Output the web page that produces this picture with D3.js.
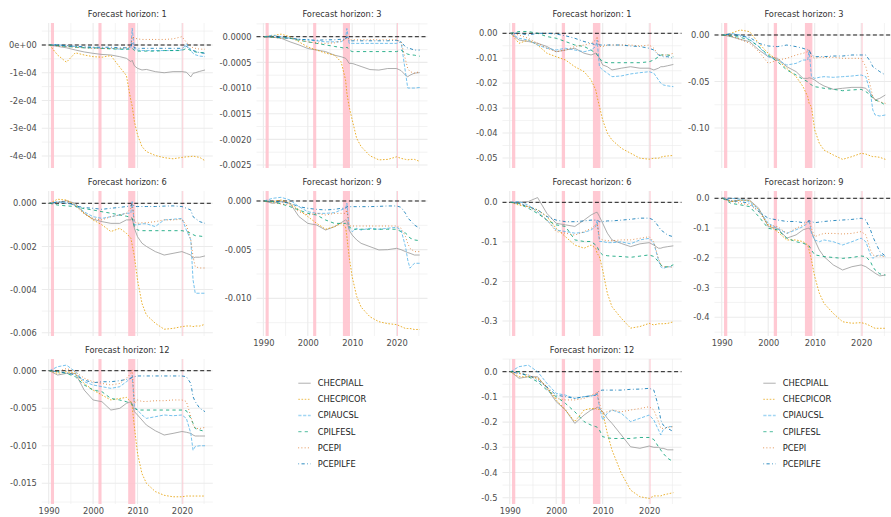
<!DOCTYPE html>
<html>
<head>
<meta charset="utf-8">
<script src="https://cdn.jsdelivr.net/npm/d3@7"></script>
<style>
  body { margin: 0; background: #fff; }
  text { font-family: "DejaVu Sans", sans-serif; }
</style>
</head>
<body>
<script>
// sample dates (decimal years) shared by every series
var years = [1990.2, 1992, 1994, 1996, 1998, 2000, 2002, 2004, 2006, 2007.5, 2008.5, 2008.8, 2009.3,
  2010, 2011, 2012, 2014, 2016, 2018, 2020, 2021, 2022, 2022.5, 2023, 2024, 2025.2];

var seriesNames = ["CHECPIALL", "CHECPICOR", "CPIAUCSL", "CPILFESL", "PCEPI", "PCEPILFE"];
var horizons = [1, 3, 6, 9, 12];
var recessions = [[1990.5, 1991.2], [2001.2, 2001.9], [2007.9, 2009.5], [2020.1, 2020.3]];
var xTicks = [1990, 2000, 2010, 2020];

// left chart: values in the unit given by leftUnits, rows follow seriesNames
var leftUnits = [1e-4, 1e-3, 1e-3, 1e-3, 1e-3];
var leftH1 = [
  [0, -0.05, -0.1, -0.18, -0.25, -0.3, -0.34, -0.36, -0.42, -0.48, -0.6, -0.55, -0.75, -0.84, -0.9, -0.88, -0.96, -1.0, -0.96, -0.96, -0.98, -1.15, -1.02, -1.0, -0.95, -0.9],
  [0, -0.36, -0.62, -0.28, -0.36, -0.42, -0.44, -0.38, -0.8, -1.1, -2.0, -2.2, -2.76, -3.24, -3.66, -3.84, -3.98, -4.06, -4.1, -4.05, -4.03, -4.02, -4.0, -4.02, -4.05, -4.17],
  [0, 0.02, -0.05, -0.05, -0.1, -0.1, -0.12, -0.12, -0.15, -0.15, -0.1, 0.6, -0.15, -0.18, -0.2, -0.2, -0.2, -0.2, -0.2, -0.18, 0.05, -0.2, -0.3, -0.35, -0.4, -0.42],
  [0, -0.02, -0.05, -0.08, -0.1, -0.1, -0.12, -0.14, -0.15, -0.15, -0.15, -0.12, -0.2, -0.22, -0.22, -0.22, -0.22, -0.2, -0.2, -0.2, -0.12, -0.2, -0.22, -0.25, -0.27, -0.28],
  [0, -0.03, -0.06, -0.08, -0.1, -0.12, -0.13, -0.12, -0.13, -0.1, -0.05, 0.3, 0.25, 0.22, 0.2, 0.2, 0.2, 0.2, 0.22, 0.3, 0.1, -0.05, -0.1, -0.12, -0.15, -0.15],
  [0, 0, -0.02, -0.05, -0.06, -0.08, -0.08, -0.08, -0.1, -0.1, -0.08, 0.1, -0.1, -0.12, -0.12, -0.12, -0.12, -0.12, -0.12, -0.12, -0.05, -0.15, -0.2, -0.22, -0.28, -0.3]
];
var leftH3 = [
  [0, -0.01, -0.03, -0.1, -0.16, -0.23, -0.26, -0.29, -0.36, -0.39, -0.42, -0.45, -0.52, -0.52, -0.55, -0.58, -0.64, -0.65, -0.62, -0.62, -0.66, -0.75, -0.78, -0.75, -0.71, -0.7],
  [0, 0.02, 0.05, 0, -0.1, -0.2, -0.26, -0.32, -0.36, -0.49, -0.84, -1.1, -1.36, -1.62, -1.98, -2.14, -2.32, -2.4, -2.39, -2.34, -2.37, -2.39, -2.4, -2.39, -2.39, -2.43],
  [0, 0.03, 0, -0.03, -0.05, -0.06, -0.08, -0.1, -0.1, -0.1, -0.04, 0.16, -0.13, -0.13, -0.13, -0.13, -0.13, -0.13, -0.13, -0.13, -0.1, -0.7, -1.0, -1.0, -1.0, -0.99],
  [0, -0.01, -0.02, -0.03, -0.07, -0.1, -0.13, -0.16, -0.19, -0.21, -0.23, -0.2, -0.26, -0.29, -0.29, -0.29, -0.29, -0.29, -0.29, -0.29, -0.26, -0.32, -0.34, -0.35, -0.36, -0.38],
  [0, -0.01, -0.03, -0.03, -0.06, -0.1, -0.12, -0.13, -0.12, -0.08, -0.06, 0.02, -0.06, -0.06, -0.06, -0.06, -0.06, -0.06, -0.06, -0.06, -0.1, -0.45, -0.62, -0.68, -0.71, -0.68],
  [0, 0, -0.02, -0.03, -0.05, -0.06, -0.07, -0.06, -0.06, -0.05, -0.05, 0, -0.08, -0.08, -0.08, -0.08, -0.08, -0.08, -0.08, -0.07, -0.1, -0.2, -0.22, -0.23, -0.26, -0.26]
];
var leftH6 = [
  [0, 0.03, 0.12, 0, -0.46, -0.74, -0.85, -0.93, -0.93, -0.77, -0.77, -0.7, -1.16, -1.55, -1.85, -2.0, -2.24, -2.4, -2.32, -2.24, -2.32, -2.4, -2.55, -2.5, -2.5, -2.44],
  [0, 0.19, 0.15, -0.08, -0.46, -0.77, -1.0, -1.31, -1.16, -1.39, -1.62, -1.93, -2.47, -3.55, -4.64, -5.18, -5.56, -5.84, -5.8, -5.72, -5.69, -5.69, -5.72, -5.69, -5.69, -5.61],
  [0, 0.08, 0, -0.08, -0.4, -0.62, -0.7, -0.62, -0.54, -0.46, -0.46, 0.08, -1.0, -1.0, -0.95, -0.95, -1.08, -0.77, -0.74, -0.7, -1.24, -1.7, -3.55, -4.17, -4.17, -4.17],
  [0, -0.08, -0.12, -0.15, -0.25, -0.31, -0.39, -0.46, -0.54, -0.6, -0.65, -0.7, -1.08, -1.24, -1.27, -1.27, -1.27, -1.27, -1.27, -1.27, -1.31, -1.39, -1.45, -1.5, -1.52, -1.55],
  [0, 0.05, 0.12, -0.12, -0.5, -0.7, -0.77, -0.62, -0.54, -0.46, -0.23, 0, -0.85, -0.93, -0.9, -0.9, -0.85, -0.77, -0.77, -0.74, -1.0, -1.7, -2.47, -2.94, -3.0, -3.0],
  [0, 0.05, 0.08, -0.12, -0.2, -0.23, -0.28, -0.23, -0.19, -0.15, -0.12, 0, -0.15, -0.15, -0.15, -0.15, -0.15, -0.13, -0.12, -0.15, -0.23, -0.31, -0.62, -0.7, -0.85, -0.93]
];
var leftH9 = [
  [0, -0.24, -0.07, -0.24, -1.6, -2.3, -2.47, -2.98, -2.64, -2.23, -1.95, -2.0, -2.98, -3.5, -4.0, -4.35, -4.69, -5.03, -5.0, -4.86, -5.0, -5.2, -5.3, -5.37, -5.55, -5.55],
  [0, -0.07, 0.1, -0.24, -0.9, -1.6, -2.3, -2.9, -2.64, -2.3, -2.64, -3.66, -5.7, -7.8, -9.8, -10.9, -11.9, -12.4, -12.6, -12.7, -12.9, -13.1, -13.1, -13.1, -13.2, -13.2],
  [0, 0.27, 0.38, 0.1, -0.58, -1.1, -1.27, -1.27, -1.2, -0.92, -0.75, -0.24, -2.8, -3.15, -2.8, -2.98, -2.8, -2.9, -2.8, -2.7, -2.98, -4.7, -6.06, -6.9, -6.4, -6.4],
  [0, -0.07, -0.3, -0.58, -0.92, -1.27, -1.44, -1.95, -2.3, -2.3, -2.3, -2.4, -2.64, -2.9, -2.9, -2.9, -2.9, -2.9, -2.9, -2.9, -3.15, -3.3, -3.5, -3.8, -4.0, -4.08],
  [0, -0.17, -0.3, -0.41, -1.1, -1.44, -1.27, -1.44, -1.27, -1.27, -1.27, -0.92, -2.57, -2.57, -2.57, -2.57, -2.57, -2.57, -2.57, -2.57, -2.8, -3.66, -4.35, -4.86, -5.2, -5.2],
  [0, -0.05, -0.07, -0.24, -0.58, -0.75, -0.86, -0.92, -0.86, -0.75, -0.75, -0.58, -0.58, -0.58, -0.58, -0.58, -0.58, -0.55, -0.51, -0.51, -0.65, -1.27, -1.78, -1.95, -2.47, -2.8]
];
var leftH12 = [
  [0, -0.58, -0.36, -0.36, -2.58, -3.9, -4.13, -5.24, -5.02, -4.35, -4.13, -4.4, -5.46, -5.9, -6.57, -7.24, -8.0, -8.57, -8.35, -8.1, -8.2, -8.35, -8.57, -8.7, -8.7, -8.7],
  [0, -0.36, -0.13, -0.36, -1.7, -2.58, -3.24, -3.9, -3.7, -3.55, -4.13, -4.8, -7.5, -11.0, -13.7, -15.0, -16.1, -16.6, -16.8, -16.8, -16.7, -16.7, -16.7, -16.7, -16.7, -16.7],
  [0, 0.53, 0.75, -0.13, -1.47, -1.9, -2.13, -2.35, -2.13, -1.47, -1.0, -0.58, -4.8, -5.24, -5.9, -6.35, -6.13, -5.9, -6.0, -5.9, -6.35, -8.35, -10.6, -10.1, -10.0, -10.0],
  [0, -0.13, -0.36, -0.8, -1.9, -2.58, -2.8, -3.7, -3.9, -4.13, -4.35, -4.5, -5.0, -5.24, -5.24, -5.24, -5.24, -5.24, -5.24, -5.24, -5.33, -6.35, -7.0, -7.7, -7.9, -8.1],
  [0, -0.13, 0.3, -0.13, -1.0, -1.47, -1.7, -1.9, -1.7, -1.0, -0.36, 0.1, -4.35, -3.9, -4.1, -4.1, -4.0, -4.0, -3.9, -3.9, -4.1, -6.1, -7.2, -7.7, -7.7, -7.55],
  [0, -0.13, -0.27, -0.58, -1.24, -1.6, -1.47, -1.47, -1.33, -1.16, -1.0, -0.9, -0.8, -0.7, -0.7, -0.7, -0.7, -0.7, -0.7, -0.7, -0.8, -1.7, -3.46, -4.13, -5.0, -5.46]
];
var leftLimits = [[-4.432, 0.793], [-2.558, 0.267], [-6.153, 0.57], [-13.87, 1.027], [-17.76, 1.56]];
var leftTicks = [[0, -1, -2, -3, -4], [0, -0.5, -1, -1.5, -2, -2.5], [0, -2, -4, -6], [0, -5, -10], [0, -5, -10, -15]];
var leftTickLabels = [
  ["0e+00", "-1e-04", "-2e-04", "-3e-04", "-4e-04"],
  ["0.0000", "-0.0005", "-0.0010", "-0.0015", "-0.0020", "-0.0025"],
  ["0.000", "-0.002", "-0.004", "-0.006"],
  ["0.000", "-0.005", "-0.010"],
  ["0.000", "-0.005", "-0.010", "-0.015"]
];

// right chart
var rightUnits = [0.01, 0.01, 0.1, 0.1, 0.1];
var rightH1 = [
  [0, -0.27, -0.33, -0.4, -0.53, -0.74, -0.67, -0.6, -0.8, -0.87, -0.8, -0.85, -1.0, -1.27, -1.34, -1.47, -1.4, -1.34, -1.4, -1.4, -1.47, -1.4, -1.34, -1.34, -1.3, -1.25],
  [0, -0.4, -0.27, -0.47, -0.8, -0.94, -1.07, -1.34, -1.54, -1.87, -2.27, -2.54, -2.94, -3.48, -4.0, -4.28, -4.61, -4.81, -5.01, -5.05, -5.01, -5.01, -4.97, -4.94, -4.92, -4.9],
  [0, -0.2, -0.27, -0.47, -0.6, -0.67, -0.6, -0.67, -0.74, -0.67, -0.53, -0.27, -1.34, -1.47, -1.6, -1.74, -1.71, -1.63, -1.58, -1.54, -1.6, -1.87, -2.0, -2.07, -2.11, -2.14],
  [0, 0.07, 0.07, 0, -0.13, -0.2, -0.33, -0.47, -0.53, -0.67, -0.8, -0.85, -1.0, -1.14, -1.18, -1.18, -1.18, -1.18, -1.18, -1.14, -1.07, -0.94, -0.87, -0.87, -0.87, -0.94],
  [0, -0.07, -0.2, -0.4, -0.6, -0.74, -0.67, -0.53, -0.47, -0.4, -0.27, -0.13, -0.53, -0.53, -0.47, -0.47, -0.47, -0.47, -0.51, -0.47, -0.6, -0.87, -0.87, -0.87, -0.87, -0.8],
  [0, 0, -0.07, 0, 0, -0.03, -0.1, -0.2, -0.33, -0.4, -0.47, -0.4, -0.47, -0.47, -0.47, -0.47, -0.47, -0.51, -0.53, -0.6, -0.67, -0.87, -0.9, -0.94, -0.94, -1.0]
];
var rightH3 = [
  [0, -0.18, -0.47, -0.72, -1.61, -2.33, -2.51, -3.41, -3.94, -4.66, -4.66, -4.6, -4.66, -4.84, -5.2, -5.48, -5.84, -5.73, -5.63, -5.63, -5.73, -6.27, -6.63, -6.99, -6.81, -6.45],
  [0, 0.18, 0.54, 0.36, -0.9, -1.97, -2.69, -3.58, -4.48, -5.56, -6.63, -7.35, -7.71, -10.2, -11.65, -12.37, -12.9, -13.37, -13.08, -12.72, -12.8, -13.0, -13.08, -13.08, -13.15, -13.37],
  [0, 0.18, 0, -0.47, -1.25, -2.33, -2.69, -3.23, -3.05, -2.69, -2.69, -1.61, -4.48, -4.66, -4.55, -4.48, -4.55, -4.48, -4.41, -4.3, -4.48, -6.27, -8.06, -8.6, -8.71, -8.6],
  [0, -0.11, -0.25, -0.54, -1.25, -2.15, -2.87, -3.76, -4.3, -4.77, -5.02, -5.13, -5.38, -5.56, -5.63, -5.73, -5.84, -5.99, -5.91, -5.84, -6.09, -6.45, -6.81, -6.99, -7.17, -7.53],
  [0, -0.11, -0.47, -0.9, -1.79, -3.05, -2.69, -2.51, -2.15, -1.97, -1.79, -1.61, -2.33, -2.51, -2.4, -2.4, -2.4, -2.51, -2.51, -2.51, -3.41, -5.56, -6.63, -6.99, -7.17, -7.35],
  [0, 0.11, -0.11, -0.25, -0.9, -1.18, -1.25, -1.08, -1.25, -1.43, -1.61, -1.61, -2.15, -2.33, -2.33, -2.33, -2.26, -2.26, -2.15, -2.15, -2.15, -2.87, -3.41, -3.58, -3.94, -4.3]
];
var rightH6 = [
  [0, 0, 0.02, 0.12, -0.28, -0.53, -0.57, -0.61, -0.45, -0.32, -0.26, -0.25, -0.36, -0.53, -0.78, -0.95, -1.04, -1.12, -1.05, -1.02, -1.08, -1.16, -1.16, -1.14, -1.12, -1.1],
  [0, -0.07, -0.11, -0.19, -0.36, -0.66, -0.87, -1.08, -1.16, -1.08, -1.16, -1.29, -1.37, -1.71, -2.3, -2.64, -2.93, -3.18, -3.14, -3.06, -3.1, -3.07, -3.07, -3.07, -3.06, -3.02],
  [0, 0.02, -0.07, -0.24, -0.45, -0.7, -0.74, -0.78, -0.76, -0.7, -0.61, -0.45, -0.99, -0.99, -1.02, -1.02, -1.0, -1.05, -0.95, -0.91, -1.04, -1.46, -1.63, -1.67, -1.63, -1.63],
  [0, -0.03, -0.15, -0.28, -0.45, -0.57, -0.61, -0.95, -0.99, -0.99, -1.08, -1.12, -1.25, -1.33, -1.35, -1.36, -1.37, -1.39, -1.36, -1.33, -1.37, -1.5, -1.58, -1.63, -1.63, -1.58],
  [0, -0.03, -0.11, -0.24, -0.45, -0.74, -0.78, -0.83, -0.74, -0.66, -0.57, -0.53, -0.91, -0.95, -0.97, -0.97, -0.95, -0.95, -0.91, -0.87, -1.0, -1.42, -1.58, -1.63, -1.63, -1.64],
  [0, -0.03, -0.11, -0.19, -0.36, -0.45, -0.49, -0.49, -0.47, -0.45, -0.45, -0.45, -0.49, -0.49, -0.47, -0.47, -0.45, -0.43, -0.4, -0.4, -0.45, -0.61, -0.7, -0.74, -0.83, -0.87]
];
var rightH9 = [
  [0, -0.11, -0.06, -0.06, -0.34, -0.95, -1.01, -1.34, -1.23, -1.06, -1.01, -1.0, -1.12, -1.4, -1.74, -1.96, -2.24, -2.41, -2.3, -2.24, -2.3, -2.41, -2.46, -2.52, -2.61, -2.58],
  [0, -0.11, -0.06, -0.08, -0.39, -0.9, -1.12, -1.4, -1.4, -1.46, -1.57, -1.74, -2.07, -2.63, -3.19, -3.53, -3.87, -4.15, -4.2, -4.18, -4.22, -4.29, -4.34, -4.37, -4.37, -4.37],
  [0, 0, -0.03, -0.11, -0.39, -0.84, -1.01, -1.18, -1.06, -0.95, -0.84, -0.73, -1.18, -1.4, -1.46, -1.4, -1.46, -1.57, -1.46, -1.34, -1.46, -1.9, -2.02, -1.96, -1.9, -1.96],
  [0, -0.17, -0.22, -0.28, -0.62, -1.01, -1.06, -1.34, -1.46, -1.51, -1.57, -1.6, -1.74, -1.9, -1.93, -1.96, -1.99, -2.02, -1.99, -1.94, -1.96, -2.13, -2.3, -2.41, -2.54, -2.58],
  [0, -0.08, -0.17, -0.22, -0.45, -0.9, -0.95, -1.18, -1.01, -0.9, -0.78, -0.73, -1.01, -1.29, -1.23, -1.18, -1.18, -1.2, -1.18, -1.12, -1.23, -1.74, -1.9, -1.94, -1.94, -1.96],
  [0, -0.08, -0.11, -0.17, -0.45, -0.67, -0.73, -0.78, -0.78, -0.82, -0.78, -0.76, -0.78, -0.82, -0.8, -0.78, -0.75, -0.73, -0.71, -0.67, -0.73, -1.06, -1.29, -1.46, -1.79, -1.94]
];
var rightH12 = [
  [0, -0.26, -0.2, -0.2, -0.66, -1.19, -1.52, -2.05, -1.72, -1.52, -1.46, -1.4, -1.46, -1.59, -1.85, -2.05, -2.51, -2.98, -3.04, -2.95, -3.0, -3.0, -3.04, -3.04, -3.1, -3.1],
  [0, -0.2, -0.2, -0.26, -0.6, -1.12, -1.52, -1.98, -1.52, -1.46, -1.46, -1.5, -1.5, -1.6, -2.45, -3.11, -4.03, -4.7, -4.96, -5.03, -4.93, -4.93, -4.93, -4.89, -4.85, -4.8],
  [0, 0.2, 0.26, 0, -0.46, -0.86, -0.93, -1.06, -0.99, -0.96, -0.93, -0.86, -1.39, -1.92, -1.65, -1.52, -1.65, -1.98, -1.85, -1.72, -1.92, -2.31, -2.51, -2.31, -2.18, -2.18],
  [0, 0, -0.2, -0.4, -0.73, -0.99, -1.26, -1.59, -1.98, -2.12, -2.18, -2.2, -2.31, -2.58, -2.62, -2.65, -2.65, -2.65, -2.61, -2.61, -2.69, -2.98, -3.11, -3.24, -3.44, -3.57],
  [0, -0.07, -0.13, -0.26, -0.6, -1.06, -1.12, -1.12, -1.06, -0.93, -0.86, -0.79, -1.26, -1.65, -1.59, -1.52, -1.59, -1.52, -1.46, -1.39, -1.52, -1.98, -2.25, -2.25, -2.21, -2.18],
  [0, -0.07, -0.13, -0.33, -0.6, -0.93, -0.99, -1.06, -0.99, -0.96, -0.93, -0.86, -0.75, -0.73, -0.73, -0.73, -0.73, -0.7, -0.69, -0.66, -0.73, -1.39, -1.92, -2.12, -2.25, -2.38]
];
var rightLimits = [[-5.403, 0.413], [-14.3, 1.29], [-3.379, 0.286], [-4.629, 0.245], [-5.25, 0.504]];
var rightTicks = [[0, -1, -2, -3, -4, -5], [0, -5, -10], [0, -1, -2, -3], [0, -1, -2, -3, -4], [0, -1, -2, -3, -4, -5]];
var rightTickLabels = [
  ["0.00", "-0.01", "-0.02", "-0.03", "-0.04", "-0.05"],
  ["0.00", "-0.05", "-0.10"],
  ["0.0", "-0.1", "-0.2", "-0.3"],
  ["0.0", "-0.1", "-0.2", "-0.3", "-0.4"],
  ["0.0", "-0.1", "-0.2", "-0.3", "-0.4", "-0.5"]
];

// styling
var seriesColors = ["#999999", "#E69F00", "#56B4E9", "#009E73", "#D55E00", "#0072B2"];
var seriesDash = ["none", "1.6,1.6", "3.2,1.6", "3.2,3.2", "0.8,2.4", "0.8,2.4,3.2,2.4"];
var fontSize = 8.3;

var rowTops = [23, 191, 359], panelH = 145;
var halves = [
  { panels: [leftH1, leftH3, leftH6, leftH9, leftH12], units: leftUnits, limits: leftLimits,
    ticks: leftTicks, labels: leftTickLabels, cols: [41.8, 256.5], width: 171, legendX: 298.3 },
  { panels: [rightH1, rightH3, rightH6, rightH9, rightH12], units: rightUnits, limits: rightLimits,
    ticks: rightTicks, labels: rightTickLabels, cols: [502.5, 714.5], width: 179, legendX: 763.3 }
];

// x range: data extent plus 5% each side
var ext = d3.extent(years), pad = (ext[1] - ext[0]) * 0.05;
var xDomain = [ext[0] - pad, ext[1] + pad];

var svg = d3.select("body").append("svg")
  .attr("width", 891)
  .attr("height", 517);

function drawPanel(half, i) {
  var col = i % 2, row = Math.floor(i / 2);
  var x0 = half.cols[col], y0 = rowTops[row], w = half.width;
  var unit = half.units[i];
  var x = d3.scaleLinear().domain(xDomain).range([x0, x0 + w]);
  var y = d3.scaleLinear()
    .domain(half.limits[i].map(function(v) { return v * unit; }))
    .range([y0 + panelH, y0]);

  var g = svg.append("g");

  // grid: minor then major
  var ticks = half.ticks[i].map(function(v) { return v * unit; });
  var step = ticks[0] - ticks[1];
  var minorY = [ticks[0] + step / 2];
  ticks.forEach(function(t) { minorY.push(t - step / 2); });
  var yd = y.domain();
  minorY = minorY.filter(function(v) { return v >= yd[0] && v <= yd[1]; });

  var minorX = [1995, 2005, 2015, 2025];

  g.selectAll(".ymin").data(minorY).enter().append("line")
    .attr("x1", x0).attr("x2", x0 + w)
    .attr("y1", function(d) { return y(d); })
    .attr("y2", function(d) { return y(d); })
    .attr("stroke", "#ebebeb").attr("stroke-width", 0.6);
  g.selectAll(".xmin").data(minorX).enter().append("line")
    .attr("y1", y0).attr("y2", y0 + panelH)
    .attr("x1", function(d) { return x(d); })
    .attr("x2", function(d) { return x(d); })
    .attr("stroke", "#ebebeb").attr("stroke-width", 0.6);
  g.selectAll(".ymaj").data(ticks).enter().append("line")
    .attr("x1", x0).attr("x2", x0 + w)
    .attr("y1", function(d) { return y(d); })
    .attr("y2", function(d) { return y(d); })
    .attr("stroke", "#ebebeb").attr("stroke-width", 1.1);
  g.selectAll(".xmaj").data(xTicks).enter().append("line")
    .attr("y1", y0).attr("y2", y0 + panelH)
    .attr("x1", function(d) { return x(d); })
    .attr("x2", function(d) { return x(d); })
    .attr("stroke", "#ebebeb").attr("stroke-width", 1.1);

  // recession bands
  g.selectAll(".rec").data(recessions).enter().append("rect")
    .attr("x", function(d) { return x(d[0]); })
    .attr("width", function(d) { return x(d[1]) - x(d[0]); })
    .attr("y", y0).attr("height", panelH)
    .attr("fill", "pink").attr("fill-opacity", 0.85);

  // zero line
  g.append("line")
    .attr("x1", x0).attr("x2", x0 + w)
    .attr("y1", y(0)).attr("y2", y(0))
    .attr("stroke", "#000").attr("stroke-width", 0.9)
    .attr("stroke-dasharray", "4,2.6");

  // series
  var line = d3.line()
    .x(function(d, k) { return x(years[k]); })
    .y(function(d) { return y(d * unit); });

  g.selectAll(".series").data(half.panels[i]).enter().append("path")
    .attr("d", line)
    .attr("fill", "none")
    .attr("stroke", function(d, s) { return seriesColors[s]; })
    .attr("stroke-dasharray", function(d, s) { return seriesDash[s]; })
    .attr("stroke-width", 0.9)
    .attr("stroke-opacity", 0.9);

  // y axis
  var labels = half.labels[i];
  var yAxis = d3.axisLeft(y)
    .tickValues(ticks)
    .tickFormat(function(d, k) { return labels[k]; })
    .tickSize(0)
    .tickPadding(5);
  var ya = g.append("g")
    .attr("transform", "translate(" + x0 + ",0)")
    .call(yAxis);
  ya.select(".domain").remove();
  ya.attr("font-family", null).attr("font-size", null);
  ya.selectAll("text").attr("fill", "#4d4d4d").style("font-size", fontSize + "px");

  // x axis only where nothing sits below
  if (i >= 3) {
    var xa = g.append("g")
      .attr("transform", "translate(0," + (y0 + panelH) + ")")
      .call(d3.axisBottom(x).tickValues(xTicks).tickFormat(d3.format("d")).tickSize(0).tickPadding(4));
    xa.select(".domain").remove();
    xa.attr("font-family", null).attr("font-size", null);
    xa.selectAll("text").attr("fill", "#4d4d4d").style("font-size", fontSize + "px");
  }

  // facet title
  g.append("text")
    .attr("x", x0 + w / 2)
    .attr("y", y0 - 9)
    .attr("dy", "0.35em")
    .attr("text-anchor", "middle")
    .attr("fill", "#333")
    .style("font-size", fontSize + "px")
    .text("Forecast horizon: " + horizons[i]);
}

function drawLegend(half) {
  var lg = svg.append("g").attr("transform", "translate(" + half.legendX + ",383.3)");
  var items = lg.selectAll("g").data(seriesNames).enter().append("g")
    .attr("transform", function(d, s) { return "translate(0," + (s * 16.1) + ")"; });
  items.append("line")
    .attr("x1", 0).attr("x2", 12.4)
    .attr("stroke", function(d, s) { return seriesColors[s]; })
    .attr("stroke-dasharray", function(d, s) { return seriesDash[s]; })
    .attr("stroke-width", 1.4)
    .attr("stroke-opacity", 0.55);
  items.append("text")
    .attr("x", 19.4)
    .attr("dy", "0.35em")
    .attr("fill", "#1a1a1a")
    .style("font-size", fontSize + "px")
    .text(function(d) { return d; });
}

halves.forEach(function(half) {
  half.panels.forEach(function(p, i) { drawPanel(half, i); });
  drawLegend(half);
});
</script>
</body>
</html>
